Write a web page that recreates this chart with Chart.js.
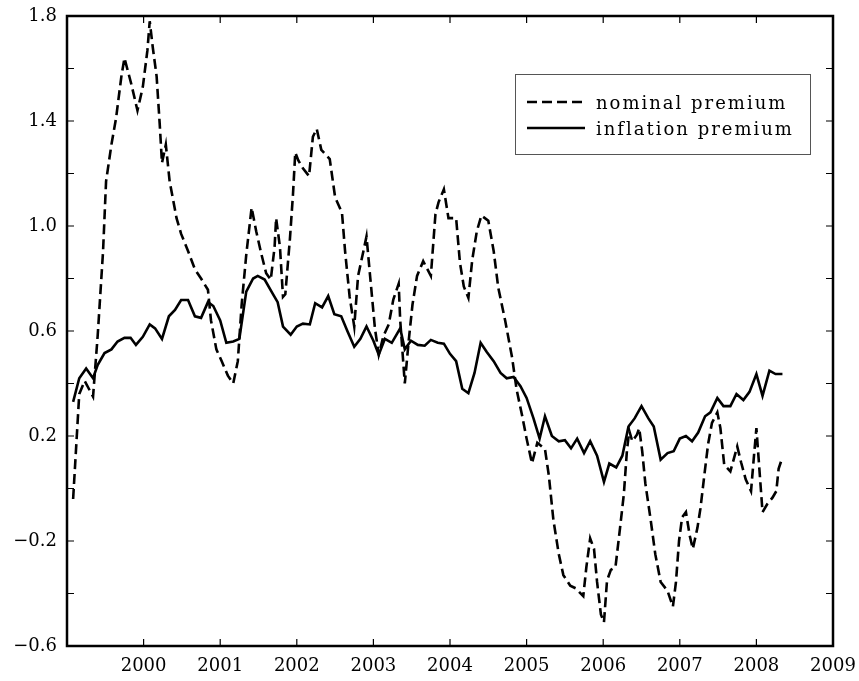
<!DOCTYPE html>
<html>
<head>
<meta charset="utf-8">
<script src="https://cdn.jsdelivr.net/npm/chart.js@4/dist/chart.umd.min.js"></script>
<style>
  html, body { margin: 0; padding: 0; background: #fff; }
  #wrap { width: 859px; height: 681px; }
</style>
</head>
<body>
<div id="wrap"><canvas id="premia" width="859" height="681"></canvas></div>
<script>
// ---- data (decimal years, percent) ----
const seriesNames = ['nominal premium', 'inflation premium'];

const nominalX = [
  1999.08, 1999.16, 1999.23, 1999.34, 1999.40, 1999.47, 1999.51, 1999.58, 1999.64, 1999.71,
  1999.75, 1999.84, 1999.92, 1999.99, 2000.05, 2000.08, 2000.12, 2000.17, 2000.21, 2000.24,
  2000.29, 2000.34, 2000.43, 2000.49, 2000.58, 2000.67, 2000.75, 2000.84, 2000.88, 2000.95,
  2001.02, 2001.10, 2001.17, 2001.23, 2001.28, 2001.34, 2001.41, 2001.47, 2001.54, 2001.60,
  2001.66, 2001.71, 2001.73, 2001.78, 2001.82, 2001.85, 2001.91, 2001.95, 2001.98, 2002.02,
  2002.08, 2002.16, 2002.21, 2002.26, 2002.32, 2002.43, 2002.50, 2002.59, 2002.63, 2002.69,
  2002.75, 2002.80, 2002.87, 2002.91, 2002.96, 2003.02, 2003.07, 2003.13, 2003.20, 2003.26,
  2003.33, 2003.35, 2003.41, 2003.46, 2003.51, 2003.57, 2003.65, 2003.75, 2003.81, 2003.85,
  2003.92, 2003.98, 2004.08, 2004.13, 2004.18, 2004.24, 2004.29, 2004.35, 2004.41, 2004.50,
  2004.57, 2004.63, 2004.72, 2004.81, 2004.87, 2004.94, 2005.00, 2005.07, 2005.14, 2005.24,
  2005.29, 2005.35, 2005.42, 2005.48, 2005.57, 2005.64, 2005.74, 2005.78, 2005.83, 2005.88,
  2005.92, 2005.97, 2006.01, 2006.05, 2006.10, 2006.16, 2006.22, 2006.27, 2006.31, 2006.34,
  2006.38, 2006.44, 2006.47, 2006.51, 2006.55, 2006.62, 2006.68, 2006.75, 2006.84, 2006.91,
  2006.95, 2006.99, 2007.03, 2007.08, 2007.13, 2007.17, 2007.23, 2007.27, 2007.32, 2007.37,
  2007.42, 2007.49, 2007.53, 2007.58, 2007.66, 2007.75, 2007.80, 2007.86, 2007.93, 2007.97,
  2008.00, 2008.03, 2008.08, 2008.14, 2008.21, 2008.26, 2008.29, 2008.33
];
const nominalY = [
  -0.04, 0.36, 0.41, 0.35, 0.58, 0.90, 1.17, 1.31, 1.41, 1.57,
  1.64, 1.54, 1.44, 1.53, 1.67, 1.78, 1.68, 1.57, 1.39, 1.24,
  1.31, 1.17, 1.03, 0.97, 0.905, 0.835, 0.80, 0.757, 0.64, 0.53,
  0.485, 0.43, 0.40, 0.485, 0.70, 0.89, 1.07, 0.98, 0.89, 0.82,
  0.795, 0.92, 1.03, 0.92, 0.73, 0.74, 0.95, 1.12, 1.28, 1.25,
  1.22, 1.19, 1.34, 1.37, 1.29, 1.255, 1.11, 1.05, 0.905, 0.73,
  0.617, 0.81, 0.905, 0.96, 0.80, 0.61, 0.51, 0.58, 0.625, 0.72,
  0.78, 0.64, 0.40, 0.56, 0.70, 0.81, 0.866, 0.81, 1.045, 1.09,
  1.14, 1.03, 1.03, 0.86, 0.77, 0.726, 0.87, 0.98, 1.04, 1.02,
  0.905, 0.765, 0.64, 0.50, 0.376, 0.28, 0.19, 0.096, 0.174, 0.15,
  0.05, -0.12, -0.25, -0.33, -0.37, -0.38, -0.41, -0.30, -0.19, -0.23,
  -0.356, -0.48, -0.51, -0.35, -0.31, -0.30, -0.15, -0.02, 0.145, 0.22,
  0.18, 0.205, 0.23, 0.14, 0.02, -0.12, -0.25, -0.356, -0.39, -0.45,
  -0.356, -0.20, -0.11, -0.09, -0.18, -0.23, -0.15, -0.075, 0.05, 0.17,
  0.25, 0.29, 0.23, 0.09, 0.065, 0.16, 0.10, 0.035, -0.01, 0.13,
  0.23, 0.11, -0.09, -0.06, -0.035, -0.01, 0.075, 0.11
];

const inflationX = [
  1999.08, 1999.16, 1999.25, 1999.34, 1999.40, 1999.49, 1999.58, 1999.66, 1999.75, 1999.83,
  1999.90, 1999.99, 2000.08, 2000.15, 2000.24, 2000.33, 2000.41, 2000.49, 2000.58, 2000.67,
  2000.75, 2000.84, 2000.91, 2001.00, 2001.08, 2001.17, 2001.25, 2001.34, 2001.43, 2001.49,
  2001.58, 2001.67, 2001.75, 2001.82, 2001.92, 2002.00, 2002.08, 2002.17, 2002.24, 2002.33,
  2002.41, 2002.49, 2002.58, 2002.66, 2002.75, 2002.83, 2002.91, 2003.00, 2003.07, 2003.15,
  2003.24, 2003.35, 2003.41, 2003.49, 2003.58, 2003.67, 2003.75, 2003.84, 2003.92, 2004.00,
  2004.08, 2004.16, 2004.24, 2004.32, 2004.40, 2004.48, 2004.57, 2004.66, 2004.74, 2004.83,
  2004.92, 2005.00, 2005.09, 2005.17, 2005.24, 2005.33, 2005.42, 2005.50, 2005.58, 2005.66,
  2005.75, 2005.83, 2005.92, 2006.01, 2006.08, 2006.17, 2006.25, 2006.33, 2006.41, 2006.50,
  2006.59, 2006.66, 2006.75, 2006.84, 2006.92, 2007.00, 2007.08, 2007.16, 2007.24, 2007.33,
  2007.40, 2007.49, 2007.57, 2007.66, 2007.74, 2007.83, 2007.91, 2008.00, 2008.08, 2008.17,
  2008.25, 2008.34
];
const inflationY = [
  0.33, 0.42, 0.457, 0.42, 0.47, 0.516, 0.53, 0.56, 0.574, 0.574,
  0.547, 0.578, 0.625, 0.61, 0.57, 0.656, 0.68, 0.718, 0.718, 0.656,
  0.65, 0.71, 0.695, 0.64, 0.555, 0.56, 0.57, 0.75, 0.80, 0.81,
  0.796, 0.75, 0.71, 0.617, 0.586, 0.617, 0.628, 0.625, 0.706, 0.69,
  0.733, 0.664, 0.656, 0.60, 0.54, 0.57, 0.617, 0.563, 0.51, 0.57,
  0.555, 0.61, 0.53, 0.563, 0.547, 0.544, 0.566, 0.555, 0.552, 0.513,
  0.485, 0.38, 0.363, 0.44, 0.555, 0.52, 0.485, 0.44, 0.42, 0.425,
  0.39, 0.345, 0.267, 0.19, 0.275, 0.20, 0.18, 0.184, 0.153, 0.19,
  0.135, 0.18, 0.125, 0.025, 0.095, 0.08, 0.125, 0.236, 0.267, 0.314,
  0.267, 0.236, 0.11, 0.135, 0.142, 0.19, 0.20, 0.18, 0.213, 0.275,
  0.29, 0.345, 0.314, 0.314, 0.36, 0.337, 0.368, 0.436, 0.353, 0.449,
  0.436, 0.436
];

const xTickValues = [2000, 2001, 2002, 2003, 2004, 2005, 2006, 2007, 2008, 2009];
const xTickLabels = ['2000', '2001', '2002', '2003', '2004', '2005', '2006', '2007', '2008', '2009'];
const yTickValues = [-0.6, -0.2, 0.2, 0.6, 1.0, 1.4, 1.8];
const yTickLabels = ['\u22120.6', '\u22120.2', '0.2', '0.6', '1.0', '1.4', '1.8'];

function pairs(xs, ys) {
  return xs.map((x, i) => ({ x: x, y: ys[i] }));
}
function lookup(vals, labels, v) {
  for (let i = 0; i < vals.length; i++) {
    if (Math.abs(vals[i] - v) < 1e-6) return labels[i];
  }
  return '';
}

// inward tick marks on all four sides + heavy frame
const frame = {
  id: 'frame',
  afterDatasetsDraw(chart) {
    const ctx = chart.ctx, a = chart.chartArea;
    const x = chart.scales.x, y = chart.scales.y;
    ctx.save();
    ctx.strokeStyle = '#000';
    ctx.lineWidth = 1.2;
    ctx.beginPath();
    y.ticks.forEach(t => {
      const py = y.getPixelForValue(t.value);
      ctx.moveTo(a.left, py); ctx.lineTo(a.left + 7, py);
      ctx.moveTo(a.right, py); ctx.lineTo(a.right - 7, py);
    });
    x.ticks.forEach(t => {
      const px = x.getPixelForValue(t.value);
      ctx.moveTo(px, a.bottom); ctx.lineTo(px, a.bottom - 7);
      ctx.moveTo(px, a.top); ctx.lineTo(px, a.top + 7);
    });
    ctx.stroke();
    ctx.lineWidth = 2.5;
    ctx.strokeRect(a.left, a.top, a.right - a.left, a.bottom - a.top);
    ctx.restore();
  }
};

// boxed legend inside the plot, upper right
const boxLegend = {
  id: 'boxLegend',
  afterDraw(chart) {
    const ctx = chart.ctx;
    const ds = chart.data.datasets;
    ctx.save();
    ctx.fillStyle = '#fff';
    ctx.fillRect(515, 74, 295, 80);
    ctx.strokeStyle = '#555';
    ctx.lineWidth = 1;
    ctx.strokeRect(515.5, 74.5, 295, 80);
    const rows = [102, 128];
    ds.forEach((d, i) => {
      ctx.strokeStyle = '#000';
      ctx.lineWidth = d.borderWidth;
      ctx.setLineDash(d.borderDash || []);
      ctx.beginPath();
      ctx.moveTo(527, rows[i]);
      ctx.lineTo(i === 0 ? 582 : 585, rows[i]);
      ctx.stroke();
      ctx.setLineDash([]);
      ctx.fillStyle = '#000';
      ctx.font = '18px "DejaVu Serif"';
      ctx.letterSpacing = '2px';
      ctx.textBaseline = 'alphabetic';
      ctx.fillText(d.label, 596, rows[i] + 7);
    });
    ctx.restore();
  }
};

const ctx = document.getElementById('premia').getContext('2d');
new Chart(ctx, {
  type: 'line',
  data: {
    datasets: [
      {
        label: seriesNames[0],
        data: pairs(nominalX, nominalY),
        borderColor: '#000',
        borderWidth: 2.6,
        borderDash: [10, 5],
        pointRadius: 0,
        tension: 0,
        fill: false
      },
      {
        label: seriesNames[1],
        data: pairs(inflationX, inflationY),
        borderColor: '#000',
        borderWidth: 2.6,
        pointRadius: 0,
        tension: 0,
        fill: false
      }
    ]
  },
  options: {
    responsive: false,
    animation: false,
    layout: { padding: { top: 16, right: 26, left: 0, bottom: 0 } },
    plugins: { legend: { display: false }, tooltip: { enabled: false } },
    scales: {
      x: {
        type: 'linear',
        min: 1999,
        max: 2009,
        afterFit: s => { s.height = 35; s.paddingLeft = 0; s.paddingRight = 0; },
        afterBuildTicks: s => {
          s.ticks = [1999].concat(xTickValues).map(v => ({ value: v }));
        },
        grid: { display: false, drawTicks: false },
        border: { display: false },
        ticks: {
          autoSkip: false,
          maxRotation: 0,
          padding: 10,
          color: '#000',
          font: { family: '"DejaVu Serif"', size: 18 },
          callback: v => lookup(xTickValues, xTickLabels, v)
        }
      },
      y: {
        min: -0.6,
        max: 1.8,
        afterFit: s => { s.width = 67; s.paddingTop = 0; s.paddingBottom = 0; },
        grid: { display: false, drawTicks: false },
        border: { display: false },
        ticks: {
          stepSize: 0.2,
          autoSkip: false,
          padding: 10,
          color: '#000',
          font: { family: '"DejaVu Serif"', size: 18 },
          callback: v => lookup(yTickValues, yTickLabels, v)
        }
      }
    }
  },
  plugins: [frame, boxLegend]
});
</script>
</body>
</html>
